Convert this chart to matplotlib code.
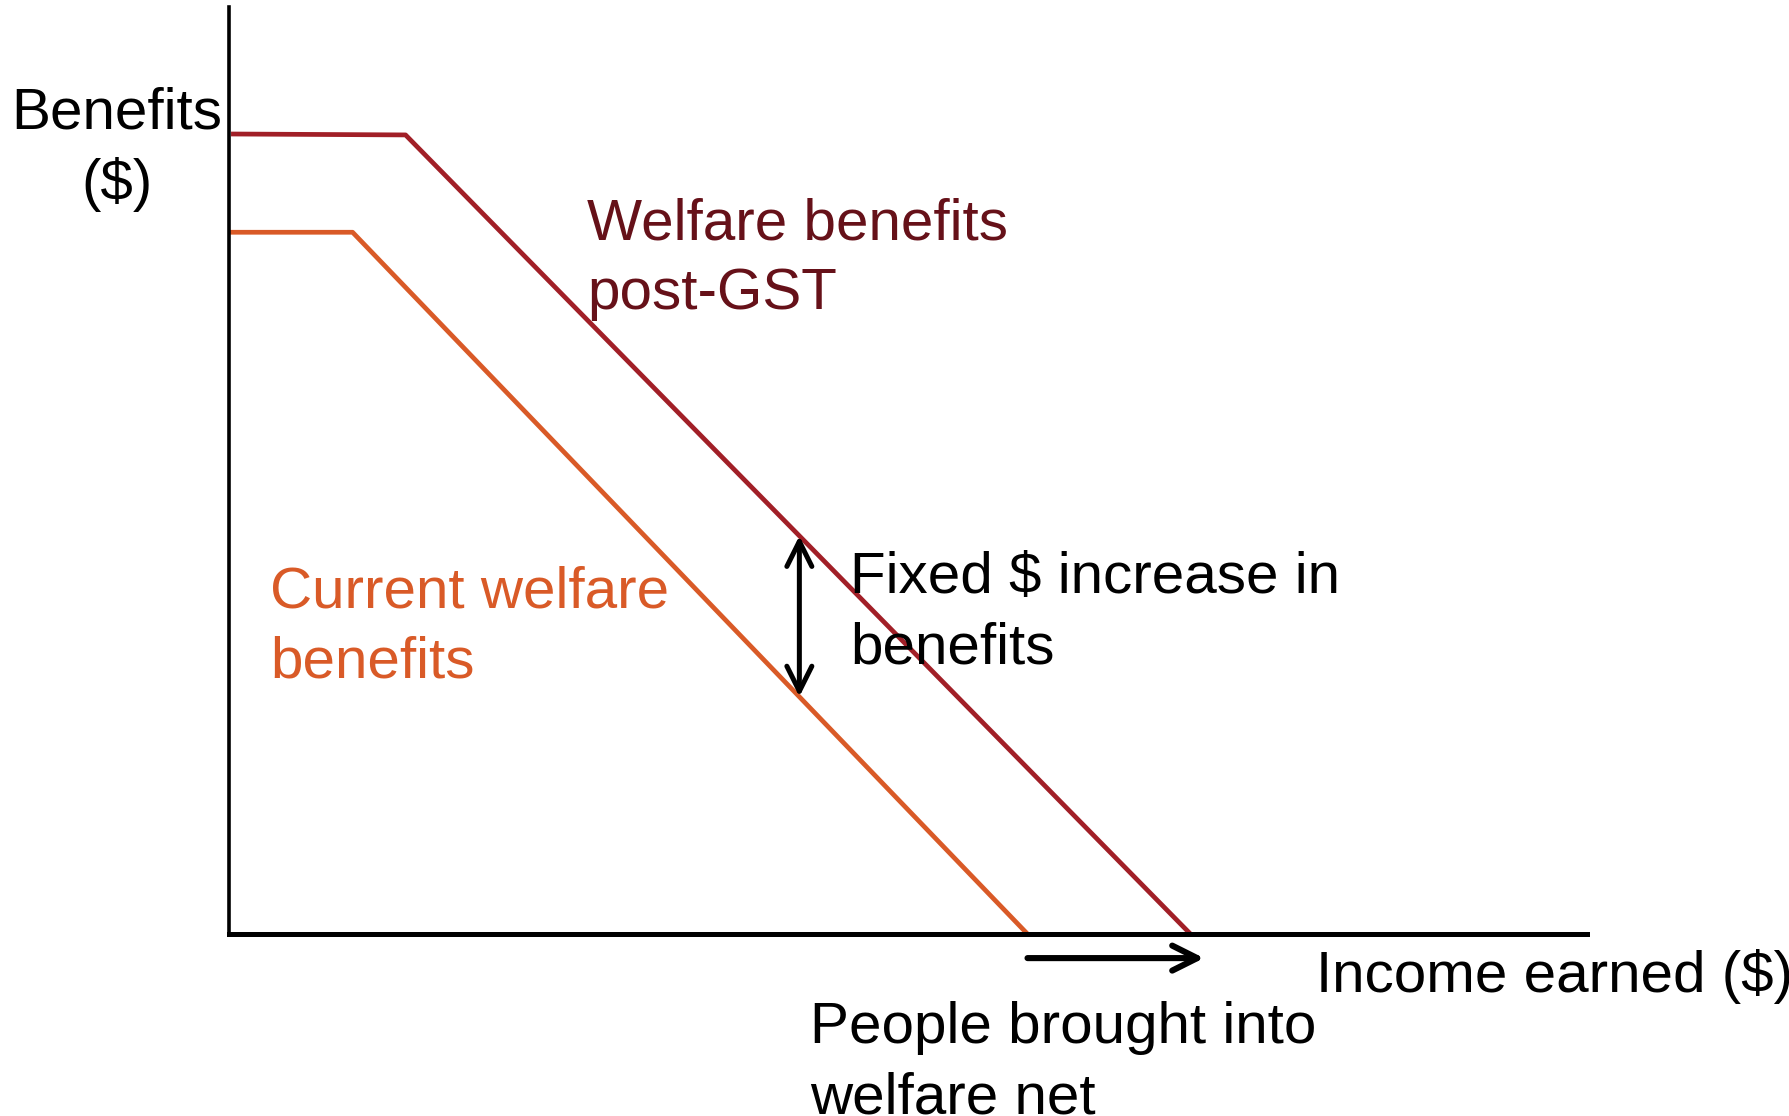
import numpy as np
import matplotlib
matplotlib.use("Agg")
import matplotlib.pyplot as plt

plt.rcParams['font.family'] = ['Liberation Sans', 'DejaVu Sans']

# benefit schedules (income earned vs benefits, arbitrary units)
current_x = [0.0, 9.1, 58.8]
current_y = [75.7, 75.7, 0.0]
post_gst_x = [0.15, 13.0, 70.8]
post_gst_y = [86.3, 86.2, 0.0]

RED = '#A11F27'
RED_TEXT = '#661119'
ORANGE = '#D95A27'
FS = 42

W, H = 1790, 1116
fig = plt.figure(figsize=(W / 100, H / 100), dpi=100)
ax = fig.add_axes([229 / W, 1 - 934 / H, (1587 - 229) / W, (934 - 7) / H])
ax.set_xlim(0, 100)
ax.set_ylim(0, 100)
ax.set_xticks([])
ax.set_yticks([])
for s in ['top', 'right']:
    ax.spines[s].set_visible(False)
ax.spines['left'].set_linewidth(2.6)
ax.spines['bottom'].set_linewidth(3.6)

ax.plot(post_gst_x, post_gst_y, color=RED, lw=3.4, solid_capstyle='butt', clip_on=False)
ax.plot(current_x, current_y, color=ORANGE, lw=3.4, solid_capstyle='butt', clip_on=False)

# vertical gap between the two schedules
xa = 42.0
y_top = np.interp(xa, post_gst_x, post_gst_y)
y_bot = np.interp(xa, current_x, current_y)
ax.annotate('', xy=(xa, y_top), xytext=(xa, y_bot), annotation_clip=False,
            arrowprops=dict(arrowstyle='<->', lw=3.6, color='black',
                            mutation_scale=45, shrinkA=0, shrinkB=0))

# shift of the zero-benefit point
ax.annotate('', xy=(post_gst_x[-1] + 1.0, -2.6), xytext=(current_x[-1], -2.6),
            annotation_clip=False,
            arrowprops=dict(arrowstyle='->', lw=4.4, color='black',
                            mutation_scale=45, shrinkA=0, shrinkB=0))


def label(px, py, s, color='black', ha='left'):
    # py is the baseline of the last line, in pixels from the top
    fig.text(px / W, 1 - py / H, s, fontsize=FS, color=color, ha=ha,
             va='baseline', linespacing=1.38)


label(117, 200, 'Benefits\n($)', ha='center')
label(587, 309, 'Welfare benefits\npost-GST', color=RED_TEXT)
label(270, 677, 'Current welfare\nbenefits', color=ORANGE)
label(850, 663, 'Fixed $ increase in\nbenefits')
label(1316, 992, 'Income earned ($)')
label(810, 1113, 'People brought into\nwelfare net')

fig.savefig('out.png', dpi=100, facecolor='white')
